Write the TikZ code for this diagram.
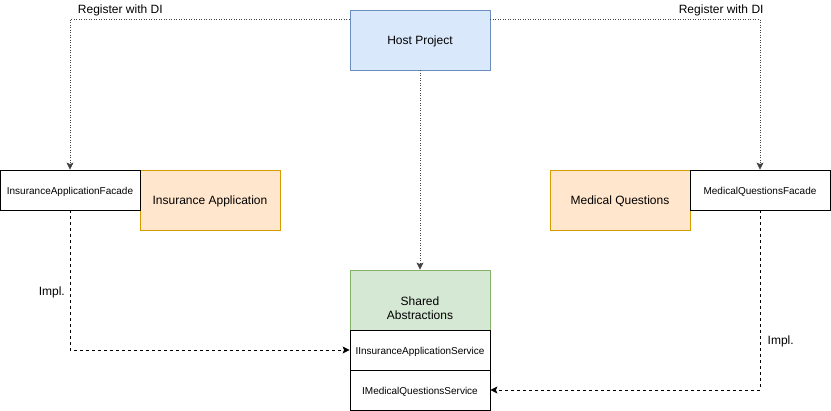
\documentclass[tikz,border=0pt]{standalone}
\usepackage{fontspec}
\setmainfont{Liberation Sans}
\usetikzlibrary{arrows.meta}
\definecolor{hostfill}{HTML}{DAE8FC}
\definecolor{hostdraw}{HTML}{6C8EBF}
\definecolor{modfill}{HTML}{FFE6CC}
\definecolor{moddraw}{HTML}{D79B00}
\definecolor{absfill}{HTML}{D5E8D4}
\definecolor{absdraw}{HTML}{82B366}
\begin{document}
\begin{tikzpicture}[x=1pt,y=-1pt,line width=0.8pt,
  main node/.style={rectangle,draw,minimum width=140pt,minimum height=60pt,inner sep=0pt,align=center,font=\fontsize{12}{14}\selectfont},
  small node/.style={rectangle,draw,fill=white,minimum width=140pt,minimum height=40pt,inner sep=0pt,font=\fontsize{10}{12}\selectfont},
  register/.style={draw=black!75,dash pattern=on 1pt off 1.5pt,-{Stealth[length=7pt,width=7pt,inset=1.5pt]}},
  impl/.style={draw=black,dash pattern=on 3pt off 3pt,-{Stealth[length=7pt,width=7pt,inset=1.5pt]}},
  hv/.style={to path={-| (\tikztotarget) \tikztonodes}},
  vh/.style={to path={|- (\tikztotarget) \tikztonodes}}]
  \useasboundingbox (0,0) rectangle (831,411);

  \node[main node,fill=hostfill,draw=hostdraw] (host) at (420,40) {\raisebox{-1pt}[\height][\depth]{Host Project}};
  \node[main node,fill=modfill,draw=moddraw] (ins) at (210,200) {\raisebox{-1pt}[\height][\depth]{Insurance Application}};
  \node[small node] (insfacade) at (70,190) {\raisebox{-1.5pt}[\height][\depth]{InsuranceApplicationFacade}};
  \node[main node,fill=modfill,draw=moddraw] (med) at (620,200) {\raisebox{-1pt}[\height][\depth]{Medical Questions}};
  \node[small node] (medfacade) at (760,190) {\raisebox{-1.5pt}[\height][\depth]{MedicalQuestionsFacade}};
  \node[main node,fill=absfill,draw=absdraw] (shared) at (420,300) {\raisebox{-10pt}[\height][\depth]{\begin{tabular}{@{}c@{}}Shared\\Abstractions\end{tabular}}};
  \node[small node] (insservice) at (420,350) {\raisebox{-1.5pt}[\height][\depth]{IInsuranceApplicationService}};
  \node[small node] (medservice) at (420,390) {\raisebox{-1.5pt}[\height][\depth]{IMedicalQuestionsService}};

  \path[every node/.style={font=\fontsize{12}{14}\selectfont}]
    ([yshift=-10pt]host.north west) edge[register,hv] node[above,pos=0.41] {Register with DI} (insfacade.north)
    ([yshift=-10pt]host.north east) edge[register,hv] node[above,pos=0.428] {Register with DI} (medfacade.north)
    (host) edge[register] (shared);

  \path[every node/.style={font=\fontsize{12}{14}\selectfont}]
    (insfacade) edge[impl,vh] node[left,pos=0.295,xshift=-1.5pt] {Impl.} (insservice)
    (medfacade) edge[impl,vh] node[right,pos=0.365,xshift=4pt] {Impl.} (medservice);
\end{tikzpicture}
\end{document}
